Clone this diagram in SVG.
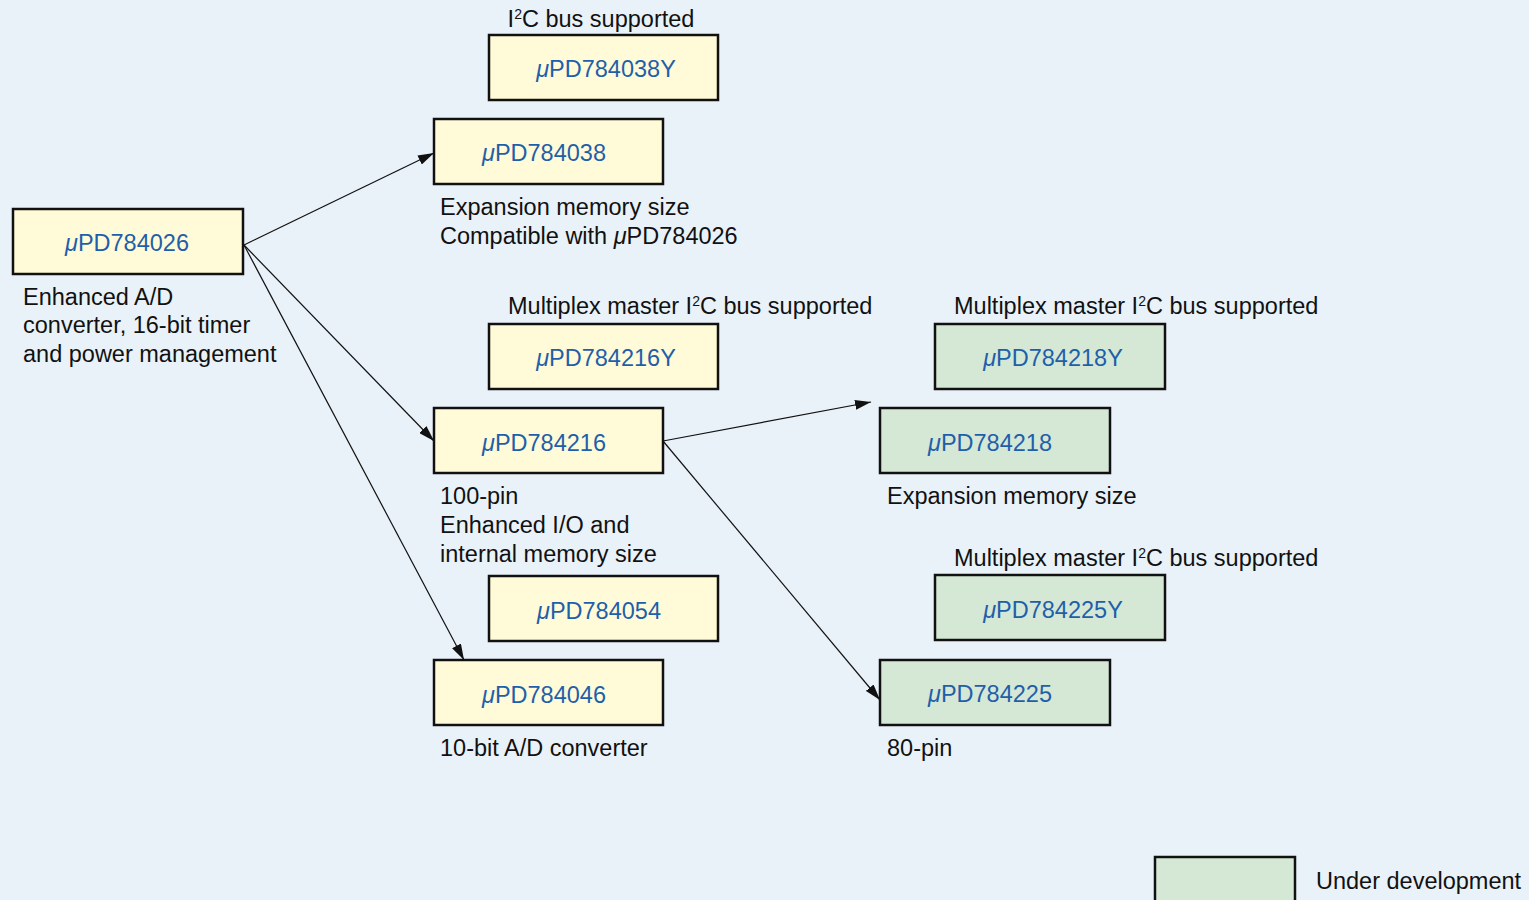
<svg xmlns="http://www.w3.org/2000/svg" width="1529" height="900" viewBox="0 0 1529 900">
<style>
text{font-family:"Liberation Sans",Arial,sans-serif;font-size:23.5px;fill:#111}
.y{fill:#FFFBD9;stroke:#111;stroke-width:2.5}
.g{fill:#D5E8D6;stroke:#111;stroke-width:2.5}
.n{fill:#1F5FAA;text-anchor:middle}
.mu{font-style:italic}
.c{stroke:#111;stroke-width:1.2;fill:none;marker-end:url(#ah)}
</style>
<defs>
<marker id="ah" viewBox="0 0 16 10" refX="16" refY="5" markerWidth="16" markerHeight="10" markerUnits="userSpaceOnUse" orient="auto">
<path d="M0,0 L16,5 L0,10 Z" fill="#111"/>
</marker>
</defs>
<rect width="1529" height="900" fill="#EAF2F9"/>
<g id="connectors">
<line class="c" x1="244" y1="245" x2="434" y2="153"/>
<line class="c" x1="244" y1="245" x2="434" y2="441"/>
<line class="c" x1="244" y1="245" x2="464" y2="660"/>
<line class="c" x1="663" y1="441" x2="871" y2="402"/>
<line class="c" x1="663" y1="441" x2="880" y2="700"/>
</g>
<g id="n784038Y"><text x="601" y="27" text-anchor="middle">I<tspan font-size="14" dy="-8">2</tspan><tspan dy="8">C bus supported</tspan></text><rect class="y" x="489" y="35" width="229" height="65"/><text class="n" x="606" y="77"><tspan class="mu">μ</tspan>PD784038Y</text></g>
<g id="n784038"><rect class="y" x="434" y="119" width="229" height="65"/><text class="n" x="544" y="161"><tspan class="mu">μ</tspan>PD784038</text><text x="440" y="215">Expansion memory size</text><text x="440" y="244">Compatible with <tspan class="mu">μ</tspan>PD784026</text></g>
<g id="n784026"><rect class="y" x="13" y="209" width="230" height="65"/><text class="n" x="127" y="251"><tspan class="mu">μ</tspan>PD784026</text><text x="23" y="305">Enhanced A/D</text><text x="23" y="333">converter, 16-bit timer</text><text x="23" y="362">and power management</text></g>
<g id="n784216Y"><text x="508" y="314">Multiplex master I<tspan font-size="14" dy="-8">2</tspan><tspan dy="8">C bus supported</tspan></text><rect class="y" x="489" y="324" width="229" height="65"/><text class="n" x="606" y="366"><tspan class="mu">μ</tspan>PD784216Y</text></g>
<g id="n784216"><rect class="y" x="434" y="408" width="229" height="65"/><text class="n" x="544" y="451"><tspan class="mu">μ</tspan>PD784216</text><text x="440" y="504">100-pin</text><text x="440" y="533">Enhanced I/O and</text><text x="440" y="562">internal memory size</text></g>
<g id="n784218Y"><text x="954" y="314">Multiplex master I<tspan font-size="14" dy="-8">2</tspan><tspan dy="8">C bus supported</tspan></text><rect class="g" x="935" y="324" width="230" height="65"/><text class="n" x="1053" y="366"><tspan class="mu">μ</tspan>PD784218Y</text></g>
<g id="n784218"><rect class="g" x="880" y="408" width="230" height="65"/><text class="n" x="990" y="451"><tspan class="mu">μ</tspan>PD784218</text><text x="887" y="504">Expansion memory size</text></g>
<g id="n784054"><rect class="y" x="489" y="576" width="229" height="65"/><text class="n" x="599" y="619"><tspan class="mu">μ</tspan>PD784054</text></g>
<g id="n784046"><rect class="y" x="434" y="660" width="229" height="65"/><text class="n" x="544" y="703"><tspan class="mu">μ</tspan>PD784046</text><text x="440" y="756">10-bit A/D converter</text></g>
<g id="n784225Y"><text x="954" y="566">Multiplex master I<tspan font-size="14" dy="-8">2</tspan><tspan dy="8">C bus supported</tspan></text><rect class="g" x="935" y="575" width="230" height="65"/><text class="n" x="1053" y="618"><tspan class="mu">μ</tspan>PD784225Y</text></g>
<g id="n784225"><rect class="g" x="880" y="660" width="230" height="65"/><text class="n" x="990" y="702"><tspan class="mu">μ</tspan>PD784225</text><text x="887" y="756">80-pin</text></g>
<g id="legend"><rect class="g" x="1155" y="857" width="140" height="50"/><text x="1316" y="889">Under development</text></g>
</svg>
